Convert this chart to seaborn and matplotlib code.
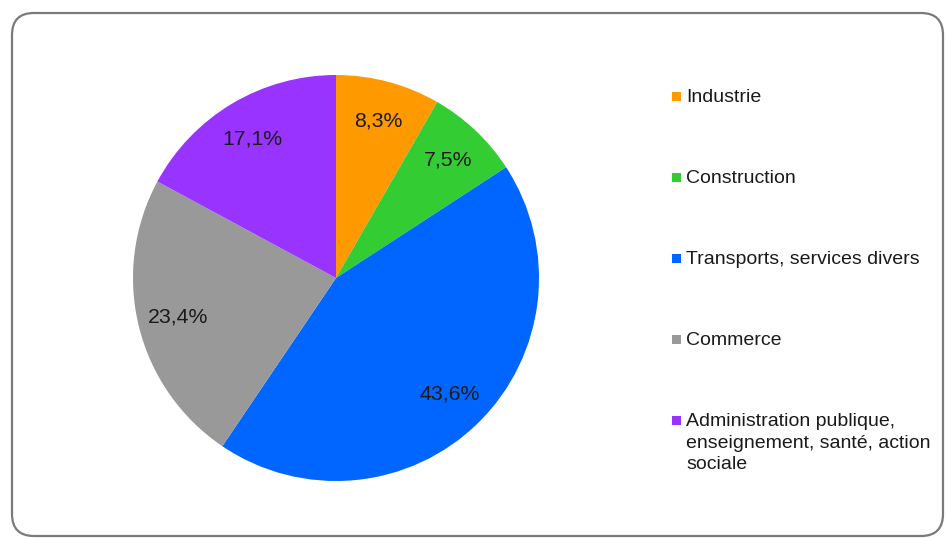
import matplotlib
matplotlib.use("Agg")
import matplotlib.pyplot as plt
import seaborn as sns
from matplotlib.patches import Rectangle, FancyBboxPatch
from matplotlib.transforms import IdentityTransform

# Employment shares by sector
sectors = [
    "Industrie",
    "Construction",
    "Transports, services divers",
    "Commerce",
    "Administration publique,\nenseignement, santé, action\nsociale",
]
shares = [8.3, 7.5, 43.6, 23.4, 17.1]
colors = ["#FF9900", "#33CC33", "#0066FF", "#999999", "#9933FF"]

sns.set_theme(style="white")
plt.rcParams["font.family"] = ["Liberation Sans", "DejaVu Sans"]

W, H, DPI = 946, 538, 100
fig = plt.figure(figsize=(W / DPI, H / DPI), dpi=DPI)
fig.patch.set_facecolor("white")

# Rounded outer frame drawn in pixel space
frame = FancyBboxPatch(
    (12, 2), 931, 523,
    boxstyle="round,pad=0,rounding_size=22",
    transform=IdentityTransform(),
    facecolor="none", edgecolor="#7a7a7a", linewidth=1.6,
    zorder=-5,
)
fig.patches.append(frame)

# Pie axes: center (336, 278) px, radius ~203 px
cx, cy, r = 336, 278, 203
ax = fig.add_axes([(cx - r) / W, (H - cy - r) / H, 2 * r / W, 2 * r / H])
ax.set_facecolor("none")

palette = sns.color_palette(colors)
wedges, texts, autotexts = ax.pie(
    shares,
    colors=palette,
    startangle=90,
    counterclock=False,
    autopct="%1.1f%%",
    pctdistance=0.8,
    wedgeprops=dict(linewidth=0),
    textprops=dict(fontsize=15.3, color="#1a1a1a"),
)
# label each wedge with its stated share, decimal comma
for t, v in zip(autotexts, shares):
    t.set_text(f"{v:.1f}%".replace(".", ","))
ax.set_xlim(-1, 1)
ax.set_ylim(-1, 1)
ax.set_aspect("equal")
ax.axis("off")

# Legend: square key aligned with the first line of each label
leg_x, leg_y0, leg_step = 672, 96, 81
for i, (lab, c) in enumerate(zip(sectors, colors)):
    yc = leg_y0 + i * leg_step
    fig.patches.append(Rectangle(
        (leg_x, H - yc - 4.5), 9, 9, transform=IdentityTransform(),
        facecolor=c, edgecolor="none"))
    fig.text((leg_x + 14) / W, 1 - (yc - 7) / H, lab,
             fontsize=14.0, color="#1a1a1a", ha="left", va="top",
             linespacing=1.36)

fig.savefig("out.png", dpi=DPI, facecolor="white")
